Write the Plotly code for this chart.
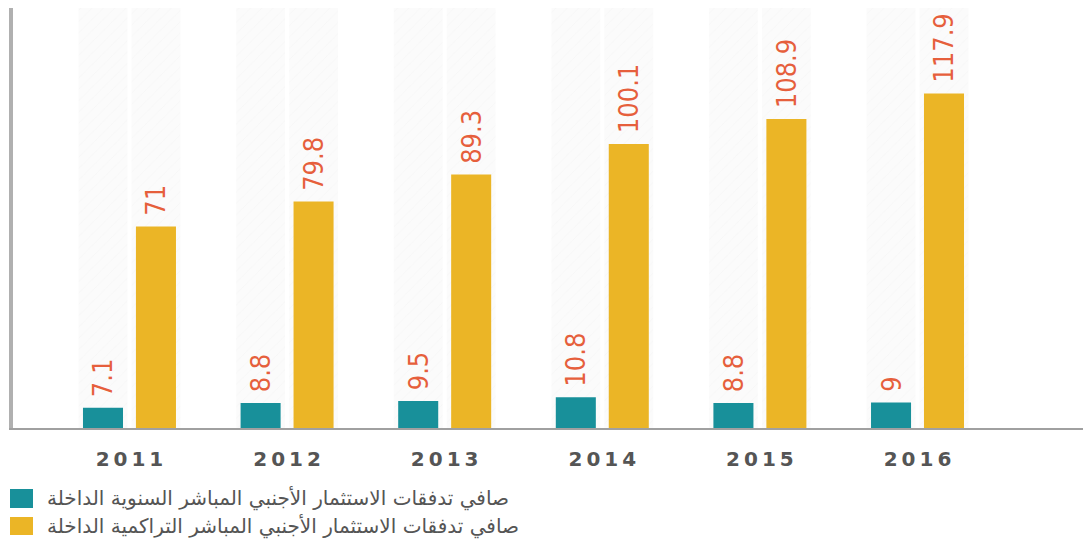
import plotly.graph_objects as go

# Data (billion)
years = ["2011", "2012", "2013", "2014", "2015", "2016"]
annual_inflows = [7.1, 8.8, 9.5, 10.8, 8.8, 9]
cumulative_inflows = [71, 79.8, 89.3, 100.1, 108.9, 117.9]
series_names = [
    "صافي تدفقات الاستثمار الأجنبي المباشر السنوية الداخلة",
    "صافي تدفقات الاستثمار الأجنبي المباشر التراكمية الداخلة",
]

W, H = 1083, 547
ML, MR, MT, MB = 13, 0, 8, 119
PW, PH = W - ML - MR, H - MT - MB
Y_MAX = 148

TEAL = "#18909a"
GOLD = "#ebb526"
LABEL = "#e65f3c"

BAR_W = 0.254
TEAL_OFF = -0.295
GOLD_OFF = 0.041
TRACK_W = 0.31


def px_x(p):
    return (p - ML) / PW


def px_y(p):
    return (H - MB - p) / PH


fig = go.Figure()

# faint background tracks behind each bar
for off in (TEAL_OFF, GOLD_OFF):
    fig.add_trace(go.Bar(
        x=years, y=[Y_MAX] * len(years),
        offset=off + BAR_W / 2 - TRACK_W / 2, width=TRACK_W,
        marker=dict(color="#fbfbfb", line=dict(width=0),
                    pattern=dict(shape="/", fgcolor="#f3f3f3", size=8, solidity=0.12)),
        hoverinfo="skip", showlegend=False,
    ))

label_font = dict(family="Liberation Sans Narrow, DejaVu Sans Condensed, sans-serif",
                  size=27, color=LABEL)

fig.add_trace(go.Bar(
    x=years, y=annual_inflows, name=series_names[0],
    offset=TEAL_OFF, width=BAR_W,
    marker=dict(color=TEAL, line=dict(width=0)),
    texttemplate="\u00a0%{y}", textposition="outside", textangle=-90,
    textfont=label_font, constraintext="none", cliponaxis=False,
    showlegend=False,
))
fig.add_trace(go.Bar(
    x=years, y=cumulative_inflows, name=series_names[1],
    offset=GOLD_OFF, width=BAR_W,
    marker=dict(color=GOLD, line=dict(width=0)),
    texttemplate="\u00a0%{y}", textposition="outside", textangle=-90,
    textfont=label_font, constraintext="none", cliponaxis=False,
    showlegend=False,
))

# legend drawn as swatches + labels below the axis
shapes = []
annotations = []
rows = [(489, 508, TEAL, series_names[0]), (517, 535, GOLD, series_names[1])]
for top, bot, col, name in rows:
    shapes.append(dict(type="rect", xref="paper", yref="paper",
                       x0=px_x(10), x1=px_x(33), y0=px_y(bot), y1=px_y(top),
                       fillcolor=col, line=dict(width=0)))
    annotations.append(dict(xref="paper", yref="paper", x=px_x(45), y=px_y((top + bot) / 2),
                            xanchor="left", yanchor="middle", showarrow=False,
                            text=name, font=dict(family="DejaVu Sans", size=20, color="#555555")))

fig.update_layout(
    width=W, height=H,
    margin=dict(l=ML, r=MR, t=MT, b=MB),
    barmode="overlay",
    plot_bgcolor="white", paper_bgcolor="white",
    shapes=shapes, annotations=annotations,
    showlegend=False,
)
fig.update_xaxes(
    type="category", range=[-0.739, 6.05],
    showgrid=False, zeroline=False,
    showline=True, linecolor="#a0a0a0", linewidth=2,
    ticks="", tickvals=years, ticktext=["<b>" + "\u2009".join(y) + "</b>" for y in years],
    tickfont=dict(family="DejaVu Sans", size=20, color="#555555"),
    ticklabelstandoff=12,
)
fig.update_yaxes(
    range=[0, Y_MAX], showgrid=False, zeroline=False,
    showline=True, linecolor="#b0b0b0", linewidth=4,
    showticklabels=False, ticks="",
)

fig.write_html("out.html")
